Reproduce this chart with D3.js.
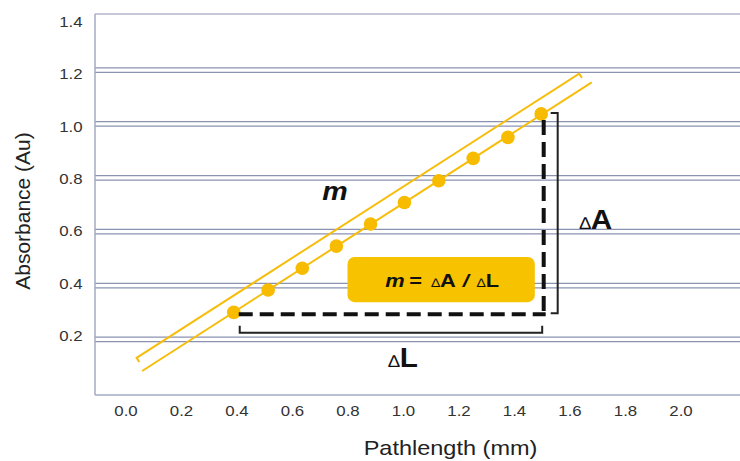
<!DOCTYPE html>
<html lang="en">
<head>
    <meta charset="UTF-8">
    <title>Absorbance vs Pathlength</title>
    <script src="https://d3js.org/d3.v7.min.js"></script>
    <style>
        body{
            margin: 0;
            background: white;
        }
        svg text{
            font-family: 'Liberation Sans', Arial, sans-serif;
        }
        .tick text{
            font-size: 14.5px;
            fill: #333;
        }
        .grid line{
            stroke: #8a92b0;
            stroke-width: 1.2px;
        }
    </style>
</head>
<body>
    <svg id='canvas' width='740' height='461'></svg>
    <script>
        // measured points (pathlength mm, absorbance)
        let pathlength = [0.39, 0.514, 0.637, 0.76, 0.883, 1.005, 1.129, 1.253, 1.378, 1.498];
        let absorbance = [0.292, 0.375, 0.456, 0.538, 0.62, 0.70, 0.781, 0.864, 0.942, 1.029];
        let xTicks = [0.0, 0.2, 0.4, 0.6, 0.8, 1.0, 1.2, 1.4, 1.6, 1.8, 2.0];
        let yTicks = [0.2, 0.4, 0.6, 0.8, 1.0, 1.2, 1.4];
        // extent of the fit line and the offset "m" line
        let fitRange = [0.06, 1.68];
        let mRange = [0.04, 1.635];
        let mOffset = 0.062;
        // annotation anchors (data units)
        let boxX = [0.80, 1.475];
        let boxY = [0.33, 0.498];

        let svg = d3.select('svg');
        let x = d3.scaleLinear().domain([0, 2]).range([125.5, 680.5]);
        let y = d3.scaleLinear().domain([0, 1.4]).range([391, 14]);
        // labels sit a bit off the grid lines in the original
        let yLabel = d3.scaleLinear().domain([0.2, 1.4]).range([336, 22]);
        // the original picture is stretched sideways a little
        let stretch = 'scale(1.16,1)';

        let left = 95, right = 740, bottom = 395;

        // grid: double lines except the top one
        let grid = svg.append('g').attr('class', 'grid');
        yTicks.forEach(function(t){
            grid.append('line')
                .attr('x1', left).attr('x2', right)
                .attr('y1', y(t)).attr('y2', y(t));
            if(t < 1.4){
                grid.append('line')
                    .attr('x1', left).attr('x2', right)
                    .attr('y1', y(t) + 4.5).attr('y2', y(t) + 4.5);
            }
        });
        // frame
        svg.append('line').attr('x1', left).attr('x2', left).attr('y1', y(1.4)).attr('y2', bottom)
            .attr('stroke', '#a3aac2').attr('stroke-width', 1.5);
        svg.append('line').attr('x1', left).attr('x2', right).attr('y1', bottom).attr('y2', bottom)
            .attr('stroke', '#a3aac2').attr('stroke-width', 1.5);

        // axes (labels only)
        svg.append('g')
            .attr('transform', 'translate(' + (left - 9) + ',0)')
            .call(d3.axisLeft(yLabel).tickValues(yTicks).tickSize(0).tickFormat(d3.format('.1f')))
            .call(g => g.select('.domain').remove())
            .selectAll('text').attr('transform', stretch);
        svg.append('g')
            .attr('transform', 'translate(0,' + (bottom + 8) + ')')
            .call(d3.axisBottom(x).tickValues(xTicks).tickSize(0).tickFormat(d3.format('.1f')))
            .call(g => g.select('.domain').remove())
            .selectAll('text').attr('transform', stretch);

        svg.append('text')
            .attr('transform', 'translate(450.5,455) scale(1.12,1)')
            .attr('text-anchor', 'middle')
            .attr('font-size', '21px').attr('fill', '#222')
            .text('Pathlength (mm)');
        svg.append('text')
            .attr('transform', 'translate(30,211) rotate(-90)')
            .attr('text-anchor', 'middle')
            .attr('font-size', '21px').attr('fill', '#222')
            .text('Absorbance (Au)');

        // least squares fit of the points
        let mx = d3.mean(pathlength), my = d3.mean(absorbance);
        let slope = d3.sum(pathlength, (d, i) => (d - mx) * (absorbance[i] - my)) /
                    d3.sum(pathlength, d => (d - mx) * (d - mx));
        let icpt = my - slope * mx;
        let fit = v => icpt + slope * v;

        let yellow = '#f6bd0a';
        svg.append('line')
            .attr('x1', x(fitRange[0])).attr('y1', y(fit(fitRange[0])))
            .attr('x2', x(fitRange[1])).attr('y2', y(fit(fitRange[1])))
            .attr('stroke', yellow).attr('stroke-width', 2);

        // offset line with small end caps
        let p0 = [x(mRange[0]), y(fit(mRange[0]) + mOffset)];
        let p1 = [x(mRange[1]), y(fit(mRange[1]) + mOffset)];
        let dx = p1[0] - p0[0], dy = p1[1] - p0[1], len = Math.hypot(dx, dy);
        let nx = -dy / len * 5, ny = dx / len * 5;
        svg.append('path')
            .attr('d', 'M' + (p0[0] + nx) + ',' + (p0[1] + ny) + 'L' + p0[0] + ',' + p0[1] +
                       'L' + p1[0] + ',' + p1[1] + 'L' + (p1[0] + nx) + ',' + (p1[1] + ny))
            .attr('fill', 'none').attr('stroke', yellow).attr('stroke-width', 2);

        // points
        svg.selectAll('circle.pt')
            .data(pathlength)
            .enter()
            .append('circle')
            .attr('class', 'pt')
            .attr('cx', d => x(d))
            .attr('cy', (d, i) => y(absorbance[i]))
            .attr('r', 6.8)
            .attr('fill', '#f7bc00');

        let first = 0, last = pathlength.length - 1;
        let fx = x(pathlength[first]), fy = y(absorbance[first]) + 2;
        let lx = x(pathlength[last]) + 2.5, ly = y(absorbance[last]) + 4;

        // dashed triangle legs
        svg.append('line')
            .attr('x1', fx + 5).attr('x2', lx + 2).attr('y1', fy).attr('y2', fy)
            .attr('stroke', '#111').attr('stroke-width', 4).attr('stroke-dasharray', '14,7');
        svg.append('line')
            .attr('x1', lx).attr('x2', lx).attr('y1', ly + 2).attr('y2', fy)
            .attr('stroke', '#111').attr('stroke-width', 4).attr('stroke-dasharray', '15,7');

        // brackets
        let by = fy + 18.5;
        svg.append('path')
            .attr('d', 'M' + (fx + 6) + ',' + (by - 7) + 'V' + by + 'H' + (lx - 1.5) + 'V' + (by - 7))
            .attr('fill', 'none').attr('stroke', '#222').attr('stroke-width', 2);
        let bx = lx + 14;
        svg.append('path')
            .attr('d', 'M' + (bx - 7) + ',' + (ly - 5) + 'H' + bx + 'V' + (fy - 1) + 'H' + (bx - 7))
            .attr('fill', 'none').attr('stroke', '#222').attr('stroke-width', 2);

        // labels
        svg.append('text')
            .attr('transform', 'translate(' + x(0.755) + ',' + y(0.709) + ') scale(1.1,1)')
            .attr('text-anchor', 'middle')
            .attr('font-size', '26px').attr('font-weight', 'bold').attr('font-style', 'italic')
            .attr('fill', '#111')
            .text('m');

        let dA = svg.append('text')
            .attr('transform', 'translate(' + x(1.695) + ',' + y(0.60) + ') scale(1.1,1)')
            .attr('text-anchor', 'middle').attr('fill', '#111');
        dA.append('tspan').attr('font-size', '17px').text('\u2206');
        dA.append('tspan').attr('font-size', '27px').attr('font-weight', 'bold').text('A');

        let dL = svg.append('text')
            .attr('transform', 'translate(' + x(1.0) + ',' + y(0.088) + ') scale(1.1,1)')
            .attr('text-anchor', 'middle').attr('fill', '#111');
        dL.append('tspan').attr('font-size', '17px').text('\u2206');
        dL.append('tspan').attr('font-size', '27px').attr('font-weight', 'bold').text('L');

        // formula box
        svg.append('rect')
            .attr('x', x(boxX[0])).attr('y', y(boxY[1]))
            .attr('width', x(boxX[1]) - x(boxX[0]))
            .attr('height', y(boxY[0]) - y(boxY[1]))
            .attr('rx', 7)
            .attr('fill', '#f7c200');
        let f = svg.append('text')
            .attr('transform', 'translate(' + ((x(boxX[0]) + x(boxX[1])) / 2 + 1) + ',' +
                  (y(boxY[0]) - 15) + ') scale(1.15,1)')
            .attr('text-anchor', 'middle')
            .attr('font-size', '19px').attr('font-weight', 'bold').attr('fill', '#111');
        f.append('tspan').attr('font-style', 'italic').text('m');
        f.append('tspan').attr('dx', 4).text('=');
        f.append('tspan').attr('dx', 8).attr('font-size', '12.5px').attr('font-weight', 'normal').text('\u2206');
        f.append('tspan').text('A');
        f.append('tspan').attr('dx', 6).attr('font-style', 'italic').text('/');
        f.append('tspan').attr('dx', 7).attr('font-size', '12.5px').attr('font-weight', 'normal').text('\u2206');
        f.append('tspan').text('L');
    </script>
</body>
</html>
